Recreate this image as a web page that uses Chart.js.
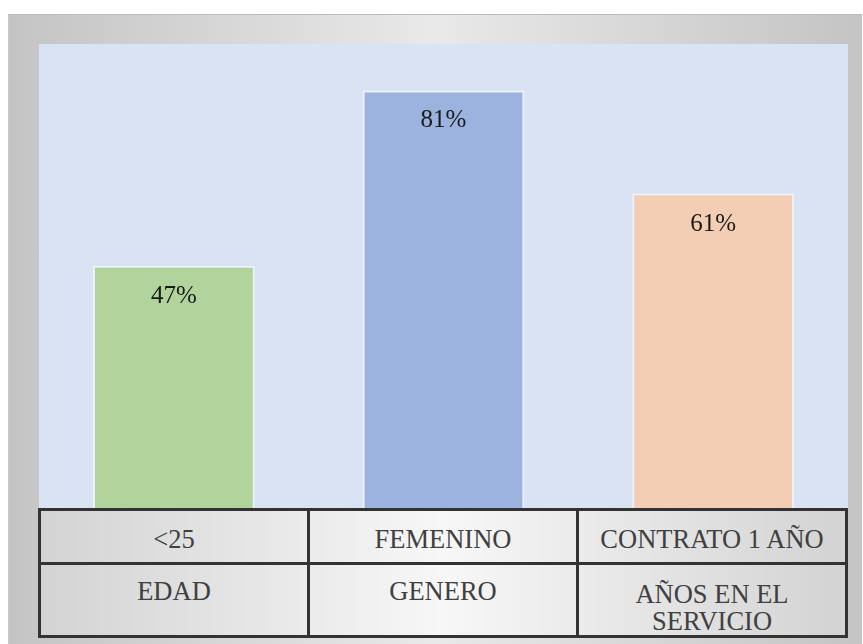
<!DOCTYPE html>
<html>
<head>
<meta charset="utf-8">
<script src="https://cdn.jsdelivr.net/npm/chart.js@4.4.0/dist/chart.umd.min.js"></script>
<style>
  body { margin: 0; width: 863px; height: 644px; background: #fff; position: relative; overflow: hidden; }
  .frame {
    position: absolute; left: 8px; top: 14px; width: 854px; height: 630px;
    background: linear-gradient(to right, #c4c4c4, #e9e9e9 50%, #c4c4c4);
    border-top: 1px solid #bcbcbc; border-left: 1px solid #c9c9c9;
    box-sizing: border-box;
  }
  #plot { position: absolute; left: 39px; top: 44px; background: #dae3f3; }
  table.datatable {
    position: absolute; left: 38px; top: 508px; width: 810px;
    border-collapse: collapse; table-layout: fixed;
    background: linear-gradient(to right, #d3d3d3, #f7f7f7 50%, #d3d3d3);
    font-family: "Liberation Serif", "Times New Roman", serif;
    font-size: 26.5px; color: #404040;
  }
  table.datatable td {
    border: 3px solid #333; text-align: center; vertical-align: top;
    line-height: 27px; padding: 0 4px;
  }
  tr.r1 { height: 54px; }
  tr.r2 { height: 73px; }
  tr.r1 td { padding-top: 15px; }
  tr.r2 td { padding-top: 13px; }
  tr.r2 td.two { padding-top: 16px; }
</style>
</head>
<body>
<div class="frame"></div>
<canvas id="plot" width="809" height="464"></canvas>
<table class="datatable" id="tbl"></table>
<script>
  // chart data
  const categories = ["<25", "FEMENINO", "CONTRATO 1 AÑO"];
  const groups = ["EDAD", "GENERO", "AÑOS EN EL SERVICIO"];
  const percentages = [47, 81, 61];
  const barColors = ["#b0d49c", "#9cb3e0", "#f3cdb4"];

  // data table under the bars
  const tbl = document.getElementById("tbl");
  const row1 = document.createElement("tr");
  row1.className = "r1";
  categories.forEach(c => {
    const td = document.createElement("td");
    td.textContent = c;
    row1.appendChild(td);
  });
  const row2 = document.createElement("tr");
  row2.className = "r2";
  groups.forEach(g => {
    const td = document.createElement("td");
    td.textContent = g;
    if (g.length > 12) td.className = "two";
    row2.appendChild(td);
  });
  tbl.appendChild(row1);
  tbl.appendChild(row2);

  const valueLabels = {
    id: "valueLabels",
    afterDatasetsDraw(chart) {
      const ctx = chart.ctx;
      const meta = chart.getDatasetMeta(0);
      ctx.save();
      ctx.font = '25px "Liberation Serif", "Times New Roman", serif';
      ctx.fillStyle = "#1a1a1a";
      ctx.textAlign = "center";
      ctx.textBaseline = "alphabetic";
      meta.data.forEach((bar, i) => {
        ctx.fillText(percentages[i] + "%", bar.x, bar.y + 37);
      });
      ctx.restore();
    }
  };

  new Chart(document.getElementById("plot"), {
    type: "bar",
    data: {
      labels: categories,
      datasets: [{
        data: percentages,
        backgroundColor: barColors,
        borderColor: "rgba(255,255,255,0.55)",
        borderWidth: 2,
        borderSkipped: "bottom",
        barPercentage: 0.6,
        categoryPercentage: 1.0
      }]
    },
    options: {
      responsive: false,
      animation: false,
      devicePixelRatio: 1,
      layout: { padding: 0 },
      plugins: { legend: { display: false }, tooltip: { enabled: false } },
      scales: {
        x: { display: false, offset: true },
        y: { display: false, min: 0, max: 90 }
      }
    },
    plugins: [valueLabels]
  });
</script>
</body>
</html>
